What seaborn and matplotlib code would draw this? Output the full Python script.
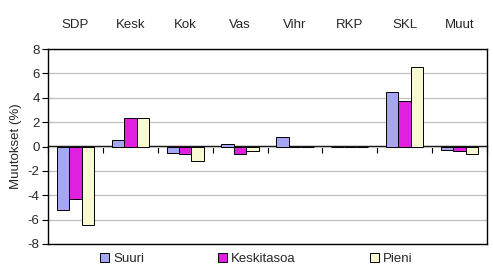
import matplotlib
matplotlib.use("Agg")
import matplotlib.pyplot as plt
import seaborn as sns
import pandas as pd
import numpy as np

categories = ["SDP", "Kesk", "Kok", "Vas", "Vihr", "RKP", "SKL", "Muut"]
suuri = [-5.2, 0.55, -0.5, 0.22, 0.75, 0.0, 4.5, -0.27]
keskitasoa = [-4.3, 2.35, -0.6, -0.6, 0.0, 0.0, 3.75, -0.35]
pieni = [-6.4, 2.35, -1.15, -0.35, 0.0, 0.0, 6.5, -0.6]
series_names = ["Suuri", "Keskitasoa", "Pieni"]
colors = ["#9999FF", "#FF00FF", "#FFFFCC"]
yticks = [-8, -6, -4, -2, 0, 2, 4, 6, 8]

df = pd.DataFrame({
    "cat": categories * 3,
    "val": suuri + keskitasoa + pieni,
    "series": [s for s in series_names for _ in categories],
})

sns.set_style("white")
plt.rcParams["font.family"] = ["Liberation Sans", "DejaVu Sans"]
plt.rcParams["axes.unicode_minus"] = False
fs = 9.5
plt.rcParams["font.size"] = fs

fig = plt.figure(figsize=(4.93, 2.77), dpi=100)
ax = fig.add_axes([48/493, 33/277, (487-48)/493, (244-49)/277])

sns.barplot(data=df, x="cat", y="val", hue="series", palette=colors,
            order=categories, hue_order=series_names, width=0.68,
            edgecolor="black", linewidth=0.7, ax=ax, legend=True, zorder=3)

ax.set_ylim(-8, 8)
ax.set_xlim(-0.5, len(categories) - 0.5)
ax.set_yticks(yticks)
ax.yaxis.grid(True, color="#C0C0C0", linewidth=0.9, zorder=0)
ax.set_axisbelow(True)
for s in ax.spines.values():
    s.set_color("black")
    s.set_linewidth(1.0)
ax.tick_params(axis="y", length=4, direction="out", left=True, color="black", labelsize=fs, pad=2)
ax.xaxis.tick_top()
ax.tick_params(axis="x", length=0, labelsize=fs, pad=13)
ax.set_xlabel("")
ax.set_ylabel("Muutokset (%)", fontsize=fs, labelpad=4)

sec = ax.secondary_xaxis(0.5)
sec.xaxis.set_ticks_position("bottom")
sec.set_xticks(np.arange(-0.5, len(categories), 1.0))
sec.set_xticklabels([])
sec.tick_params(axis="x", which="both", bottom=True, top=False, length=4,
                direction="out", color="black")
for s in sec.spines.values():
    s.set_color("black")
    s.set_linewidth(1.0)

handles, labels = ax.get_legend_handles_labels()
ax.get_legend().remove()
fig.legend(handles, labels, loc="lower center", bbox_to_anchor=(0.52, 0.0),
           ncol=3, frameon=False, fontsize=fs, columnspacing=5.6,
           handlelength=0.7, handleheight=0.7, handletextpad=0.3)

fig.savefig("out.png", dpi=100)
